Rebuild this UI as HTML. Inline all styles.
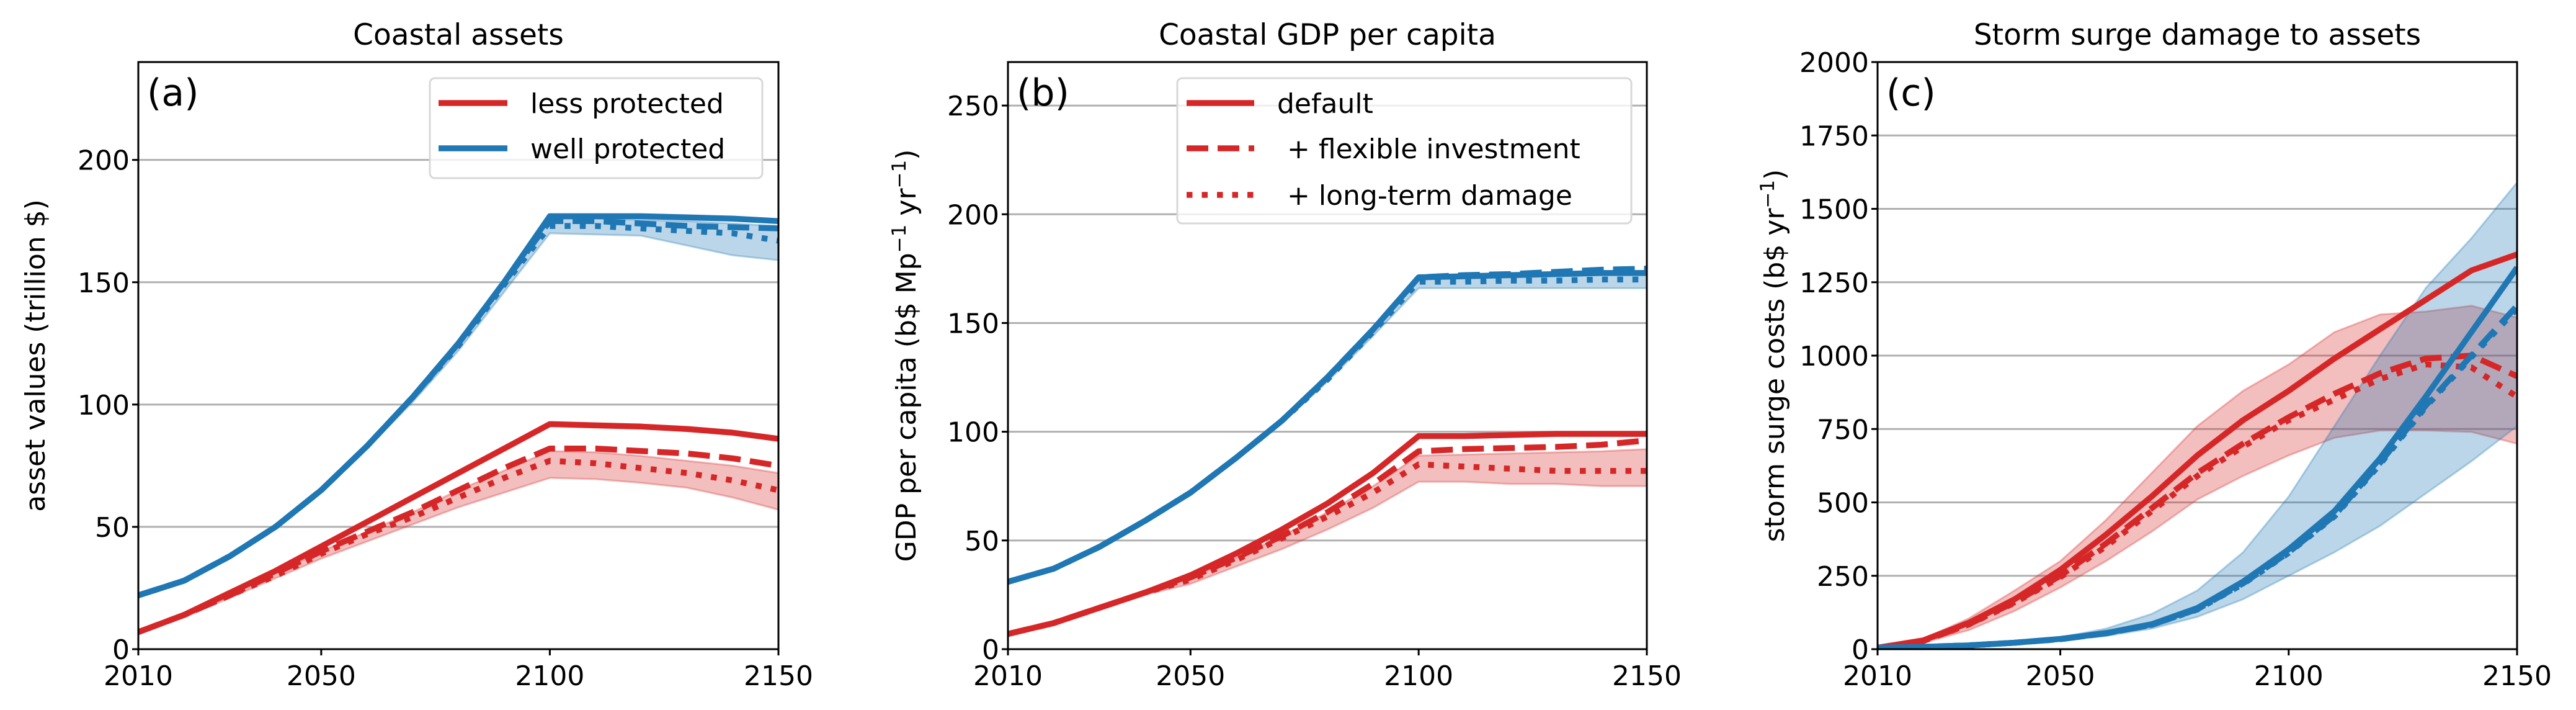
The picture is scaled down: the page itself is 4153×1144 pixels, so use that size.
<!DOCTYPE html>
<html><head><meta charset="utf-8"><style>
html,body{margin:0;padding:0;background:#fff;}
svg{display:block;font-family:"DejaVu Sans","Liberation Sans",sans-serif;}
</style></head><body>
<svg id="fig" width="4153" height="1144" viewBox="0 0 4153 1144" xmlns="http://www.w3.org/2000/svg"></svg>
<script>
const years = [2010,2020,2030,2040,2050,2060,2070,2080,2090,2100,2110,2120,2130,2140,2150];
const xTicks = [2010,2050,2100,2150];
// Panel a: coastal assets (trillion $)
const aBlueSolid  = [22,28,38,50,65,83,103,125,150,177,177,177,176.5,176,175];
const aBlueDash   = [22,28,38,50,65,83,103,125,150,175,175,174,173,172.5,172];
const aBlueDot    = [22,28,38,50,65,83,103,124,149,173,173,172,171,170,167];
const aBlueLow    = [22,28,38,50,64,82,101,122,146,170,169.5,169,165,161,159];
const aBlueHigh   = [22,28,38,50,65,83,103,125,150,176,176,175.5,175,174,173];
const aRedSolid   = [7,14,23,32,42,52,62,72,82,92,91.5,91,90,88.5,86];
const aRedDash    = [7,14,22,31,40,48,56,65,74,82,82,81,80,78,75];
const aRedDot     = [7,14,22,30,39,47,54,62,70,77,76,74,72,69,65];
const aRedLow     = [7,13,21,29,37,44,51,58,64,70,69.5,68,66,62,57];
const aRedHigh    = [7,14,22,31,40,48,56,65,73,81,80.5,79,77,75,72];
const aYTicks = [0,50,100,150,200];
// Panel b: GDP per capita
const bBlueSolid  = [31,37,47,59,72,88,105,125,147,171,171.5,172,172.5,173,173];
const bBlueDash   = [31,37,47,59,72,88,105,125,147,171,172,172.5,173.5,174.5,175];
const bBlueDot    = [31,37,47,59,72,88,105,124,146,169,169,169.5,169.5,170,170];
const bBlueLow    = [31,37,47,59,71,87,104,123,144,166,166,166,166,166,166];
const bBlueHigh   = [31,37,47,59,72,88,105,125,147,172,172,172.5,173,173.5,174];
const bRedSolid   = [7,12,19,26,34,44,55,67,81,98,98,98.5,99,99,99];
const bRedDash    = [7,12,19,26,33,42,52,63,76,91,92,92.5,93,94,96];
const bRedDot     = [7,12,19,26,32,41,51,61,72,85,84,83,82,82,82];
const bRedLow     = [7,12,18,25,30,38,46,55,65,77,77,76,76,75,75];
const bRedHigh    = [7,12,19,26,33,42,52,63,75,89,89.5,90,90.5,91,92];
const bYTicks = [0,50,100,150,200,250];
// Panel c: storm surge costs
const cRedSolid   = [5,30,90,170,270,390,520,660,780,880,990,1090,1190,1290,1345];
const cRedDash    = [5,28,85,160,250,360,480,600,700,790,870,940,990,1000,930];
const cRedDot     = [5,28,84,158,245,350,470,590,690,780,850,920,970,960,860];
const cRedLow     = [5,22,65,130,210,300,400,510,590,660,720,745,745,740,700];
const cRedHigh    = [5,35,105,200,300,440,600,760,880,970,1080,1140,1150,1170,1130];
const cBlueSolid  = [5,8,13,22,35,55,85,140,230,340,470,650,860,1080,1300];
const cBlueDash   = [5,8,13,22,34,54,83,136,224,330,455,635,830,1000,1170];
const cBlueDot    = [5,8,13,22,34,54,83,135,222,328,452,630,825,995,1160];
const cBlueLow    = [5,7,11,18,30,45,70,110,170,250,330,420,530,640,760];
const cBlueHigh   = [5,9,15,26,40,70,120,200,330,520,760,1000,1230,1400,1590];
const cYTicks = [0,250,500,750,1000,1250,1500,1750,2000];

const RED='#d62728', BLUE='#1f77b4';
const LW=9.5;
const svg=document.getElementById('fig');
const NS='http://www.w3.org/2000/svg';
function mk(tag,attrs,parent){const e=document.createElementNS(NS,tag);for(const k in attrs)e.setAttribute(k,attrs[k]);(parent||svg).appendChild(e);return e;}

const TOP=100, BOT=1046;
function panel(cfg){
  const g=mk('g',{});
  
  
  const L=cfg.left,R=cfg.right;
  const sx=v=>L+(v-2010)/(2150-2010)*(R-L);
  const sy=v=>BOT-v/cfg.ymax*(BOT-TOP);
  const clip=mk('clipPath',{id:'clip'+cfg.id},g);
  mk('rect',{x:L,y:TOP,width:R-L,height:BOT-TOP},clip);
  cfg.yTicks.forEach(t=>{
    const gl=mk('line',{x1:L,x2:R,y1:sy(t),y2:sy(t),stroke:'#b0b0b0','stroke-width':3},g);
    
    
  });
  const plot=mk('g',{'clip-path':'url(#clip'+cfg.id+')'},g);
  function band(lo,hi,color,nm){
    let d='M'+years.map((y,i)=>sx(y)+','+sy(lo[i])).join('L');
    d+='L'+years.slice().reverse().map((y,j)=>{const i=years.length-1-j;return sx(y)+','+sy(hi[i]);}).join('L')+'Z';
    const p=mk('path',{d:d,fill:color,'fill-opacity':0.3,stroke:color,'stroke-opacity':0.3,'stroke-width':3},plot);
    
    
  }
  function line(vals,color,style,nm){
    const d='M'+years.map((y,i)=>sx(y)+','+sy(vals[i])).join('L');
    const a={d:d,fill:'none',stroke:color,'stroke-width':LW,'stroke-linejoin':'round'};
    if(style==='dash')a['stroke-dasharray']='35 15';
    if(style==='dot')a['stroke-dasharray']='9.5 15';
    const p=mk('path',a,plot);
    
    
  }
  cfg.draw(band,line);
  const fr=mk('rect',{x:L,y:TOP,width:R-L,height:BOT-TOP,fill:'none',stroke:'#000','stroke-width':3},g);
  
  
  cfg.yTicks.forEach(t=>{
    mk('line',{x1:L-10,x2:L,y1:sy(t),y2:sy(t),stroke:'#000','stroke-width':3},g);
    const tx=mk('text',{x:L-14,y:sy(t)+16,'text-anchor':'end','font-size':44},g);
    tx.textContent=t;
    
    
  });
  xTicks.forEach(t=>{
    mk('line',{x1:sx(t),x2:sx(t),y1:BOT,y2:BOT+10,stroke:'#000','stroke-width':3},g);
    const tx=mk('text',{x:sx(t),y:BOT+58,'text-anchor':'middle','font-size':44},g);
    tx.textContent=t;
    
    
  });
  const ti=mk('text',{x:(L+R)/2,y:72,'text-anchor':'middle','font-size':47},g);
  ti.textContent=cfg.title;
  
  
  const lb=mk('text',{x:L+14,y:170,'font-size':60},g);
  lb.textContent=cfg.label;
  
  
  const yl=mk('text',{x:0,y:0,'text-anchor':'middle','font-size':44,transform:'translate('+cfg.ylx+','+((TOP+BOT)/2)+') rotate(-90)'},g);
  yl.innerHTML=cfg.ylabel;
  
  
  return {sx,sy};
}

panel({id:'a',name:'panel-coastal-assets',left:223,right:1255,ymax:240,yTicks:aYTicks,title:'Coastal assets',label:'(a)',ylx:72,
 ylabel:'asset values (trillion $)',
 draw:(band,line)=>{
  band(aBlueLow,aBlueHigh,BLUE,'band-well-protected');
  band(aRedLow,aRedHigh,RED,'band-less-protected');
  line(aBlueSolid,BLUE,'solid','line-well-default');
  line(aBlueDash,BLUE,'dash','line-well-flexible');
  line(aBlueDot,BLUE,'dot','line-well-longterm');
  line(aRedSolid,RED,'solid','line-less-default');
  line(aRedDash,RED,'dash','line-less-flexible');
  line(aRedDot,RED,'dot','line-less-longterm');
 }});
panel({id:'b',name:'panel-coastal-gdp',left:1625,right:2655,ymax:270,yTicks:bYTicks,title:'Coastal GDP per capita',label:'(b)',ylx:1476,
 ylabel:'GDP per capita (b$ Mp<tspan dy="-16" font-size="31">−1</tspan><tspan dy="16"> yr</tspan><tspan dy="-16" font-size="31">−1</tspan><tspan dy="16">)</tspan>',
 draw:(band,line)=>{
  band(bBlueLow,bBlueHigh,BLUE,'band-well-protected');
  band(bRedLow,bRedHigh,RED,'band-less-protected');
  line(bBlueSolid,BLUE,'solid','line-well-default');
  line(bBlueDash,BLUE,'dash','line-well-flexible');
  line(bBlueDot,BLUE,'dot','line-well-longterm');
  line(bRedSolid,RED,'solid','line-less-default');
  line(bRedDash,RED,'dash','line-less-flexible');
  line(bRedDot,RED,'dot','line-less-longterm');
 }});
panel({id:'c',name:'panel-storm-damage',left:3027,right:4058,ymax:2000,yTicks:cYTicks,title:'Storm surge damage to assets',label:'(c)',ylx:2876,
 ylabel:'storm surge costs (b$ yr<tspan dy="-16" font-size="31">−1</tspan><tspan dy="16">)</tspan>',
 draw:(band,line)=>{
  band(cRedLow,cRedHigh,RED,'band-less-protected');
  band(cBlueLow,cBlueHigh,BLUE,'band-well-protected');
  line(cRedSolid,RED,'solid','line-less-default');
  line(cRedDash,RED,'dash','line-less-flexible');
  line(cRedDot,RED,'dot','line-less-longterm');
  line(cBlueSolid,BLUE,'solid','line-well-default');
  line(cBlueDash,BLUE,'dash','line-well-flexible');
  line(cBlueDot,BLUE,'dot','line-well-longterm');
 }});

function legend(name,x,y,w,h,entries){
  const g=mk('g',{});
  
  
  mk('rect',{x:x,y:y,width:w,height:h,rx:8,fill:'#fff','fill-opacity':0.8,stroke:'#d8d8d8','stroke-width':3},g);
  entries.forEach(e=>{
    const a={x1:e.lx1,x2:e.lx2,y1:e.y,y2:e.y,stroke:e.color,'stroke-width':LW};
    if(e.style==='dash')a['stroke-dasharray']='35 15';
    if(e.style==='dot')a['stroke-dasharray']='9.5 15';
    const ln=mk('line',a,g);
    
    
    const t=mk('text',{x:e.tx,y:e.y+16,'font-size':44},g);
    t.textContent=e.text;
    
    
  });
}
legend('legend-protection',693,126,536,161,[
  {lx1:707,lx2:818,y:166,color:RED,style:'solid',tx:855,text:'less protected'},
  {lx1:707,lx2:818,y:239,color:BLUE,style:'solid',tx:855,text:'well protected'}]);
legend('legend-scenario',1898,126,732,234,[
  {lx1:1913,lx2:2022,y:166,color:RED,style:'solid',tx:2059,text:'default'},
  {lx1:1913,lx2:2022,y:239,color:RED,style:'dash',tx:2075,text:'+ flexible investment'},
  {lx1:1913,lx2:2022,y:314,color:RED,style:'dot',tx:2075,text:'+ long-term damage'}]);
</script>
</body></html>
